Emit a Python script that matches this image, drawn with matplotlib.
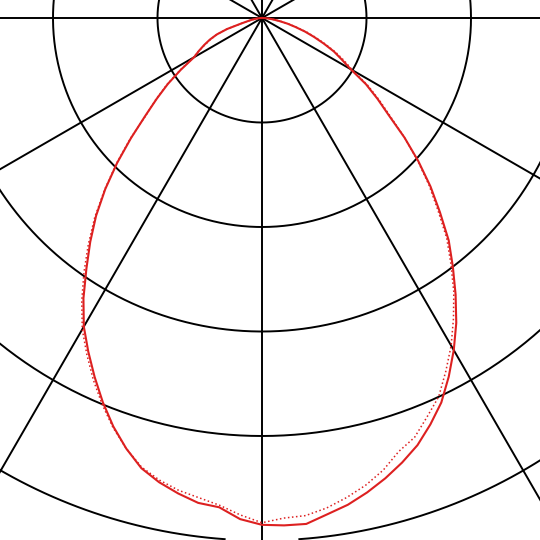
import numpy as np
import matplotlib
matplotlib.use("Agg")
import matplotlib.pyplot as plt

# gamma angles (deg from nadir, + = right half), step 2.5
angles = list(np.arange(-90, 90.1, 2.5))

# intensities in cd
c0_c180 = [0, 2, 4, 6, 10, 14, 21, 35, 46, 54, 61, 68, 75, 92, 110, 127, 146,
           170, 196, 222, 247, 270, 293, 318, 341, 360, 379, 398, 416, 432, 446, 455, 462, 468, 470, 480,
           485,
           486, 486, 479, 473, 465, 456, 446, 435, 421, 406, 387, 367, 346, 323, 300, 278, 252, 228, 203,
           178, 153, 135, 118, 98, 86, 76, 64, 53, 43, 33, 25, 17, 11, 7, 3, 0]

c90_c270 = [0, 2, 4, 6, 10, 14, 21, 35, 46, 53, 60, 68, 76, 93, 111, 128, 145,
            171, 197, 223, 249, 273, 297, 321, 344, 363, 382, 400, 417, 432, 445, 453, 459, 463, 468, 476,
            483,
            479, 478, 473, 466, 458, 448, 435, 427, 413, 400, 381, 362, 341, 320, 297, 275, 249, 226, 202,
            178, 155, 137, 120, 100, 89, 78, 66, 55, 45, 34, 26, 18, 11, 7, 3, 0]

rings = [100, 200, 300, 400, 500]
r_max = 560

W = H = 540
cx, cy = 262, 18          # pole position in pixels (from top-left)
px_per_cd = 1.045
R = r_max * px_per_cd

fig = plt.figure(figsize=(5.4, 5.4), dpi=100)
ax = fig.add_axes([(cx - R) / W, 1 - (cy + R) / H, 2 * R / W, 2 * R / H], projection="polar")
ax.set_theta_zero_location("S")
ax.set_theta_direction(1)
ax.set_ylim(0, r_max)
ax.set_thetagrids(np.arange(0, 360, 30), labels=[])
ax.set_yticks(rings)
ax.set_yticklabels([])
ax.yaxis.grid(False)
ax.xaxis.grid(True, color="black", linewidth=1.4)
ax.spines["polar"].set_visible(False)
ax.patch.set_alpha(0)

full = np.linspace(0, 2 * np.pi, 721)
for r in rings[:-1]:
    ax.plot(full, np.full_like(full, r), color="black", lw=1.4, zorder=1)
# outer ring has a small gap at the nadir
outer = np.linspace(np.radians(4.1), np.radians(360 - 4.1), 721)
ax.plot(outer, np.full_like(outer, rings[-1]), color="black", lw=1.4, zorder=1)

th = np.radians(angles)
ax.plot(th, c0_c180, color="#dd2020", lw=1.5, zorder=3, solid_joinstyle="round")
ax.plot(th, c90_c270, color="#dd2020", lw=1.1, ls=":", zorder=3)

fig.savefig("out.png", dpi=100)
